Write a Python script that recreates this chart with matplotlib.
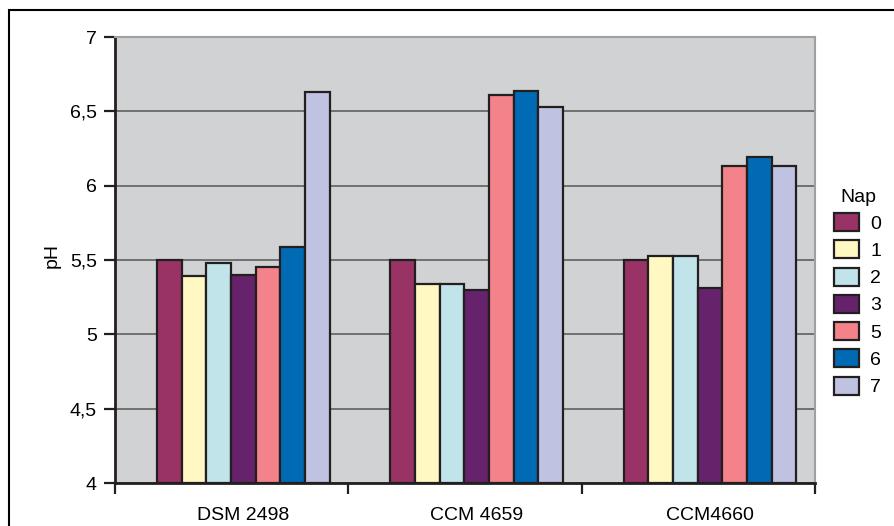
import numpy as np
import matplotlib
matplotlib.use("Agg")
import matplotlib.pyplot as plt
from matplotlib.patches import Rectangle

plt.rcParams['font.family'] = ['Liberation Sans', 'DejaVu Sans']

# data
strains = ["DSM 2498", "CCM 4659", "CCM4660"]
days = ["0", "1", "2", "3", "5", "6", "7"]
ph_day0 = [5.50, 5.50, 5.50]
ph_day1 = [5.39, 5.34, 5.53]
ph_day2 = [5.48, 5.34, 5.53]
ph_day3 = [5.40, 5.30, 5.31]
ph_day5 = [5.45, 6.61, 6.13]
ph_day6 = [5.59, 6.64, 6.19]
ph_day7 = [6.63, 6.53, 6.13]
yticks = [4, 4.5, 5, 5.5, 6, 6.5, 7]
ytick_labels = ["4", "4,5", "5", "5,5", "6", "6,5", "7"]

series = [ph_day0, ph_day1, ph_day2, ph_day3, ph_day5, ph_day6, ph_day7]
colors = ["#993366", "#FFF8C2", "#C0E4EA", "#66226A", "#F4828A", "#006BB4", "#C0C2E2"]

fig = plt.figure(figsize=(8.95, 5.26), dpi=100)
ax = fig.add_axes([115/895, 1 - 483/526, 700/895, 446/526])
ax.set_facecolor("#D1D2D4")

# groups sit a little right of the category centres in the original
x = np.arange(len(strains)) + 0.05
group_w = 0.74
bw = group_w / len(series)
handles = []
for k, (vals, col) in enumerate(zip(series, colors)):
    pos = x - group_w/2 + bw*(k + 0.5)
    b = ax.bar(pos, np.array(vals) - 4, bottom=4, width=bw, color=col,
               edgecolor="#231F20", linewidth=1.6, zorder=3)
    handles.append(b)

ax.set_xlim(-0.5, 2.5)
ax.set_ylim(4, 7)
ax.set_yticks(yticks)
ax.set_yticklabels(ytick_labels, fontsize=14)
ax.yaxis.grid(True, color="#555555", linewidth=1.1, zorder=1)
ax.set_xticks(x)
ax.set_xticklabels(strains, fontsize=14)
ax.set_xticks([-0.5, 0.5, 1.5, 2.5], minor=True)
ax.tick_params(axis="x", which="major", length=0, pad=17)
ax.tick_params(axis="x", which="minor", length=8, width=1.6, color="#231F20")
ax.tick_params(axis="y", length=8, width=1.6, color="#231F20", pad=5)

for side in ["left", "bottom"]:
    ax.spines[side].set_linewidth(2)
    ax.spines[side].set_color("#231F20")
for side in ["top", "right"]:
    ax.spines[side].set_linewidth(1.5)
    ax.spines[side].set_color("#A0A0A0")

ax.set_ylabel("pH", fontsize=14)
ax.yaxis.set_label_coords(-0.078, 0.51)

leg = fig.legend(handles, days, title="Nap", loc="upper left",
                 bbox_to_anchor=(817/895, 1 - 171/526), frameon=False,
                 fontsize=14, title_fontsize=14, handlelength=1.25,
                 handleheight=1.05, handletextpad=0.6, labelspacing=0.39)

# outer frame (top and left edges visible)
fig.patches.append(Rectangle((9/895, -0.05), 1.0, 1 - 10/526 + 0.05,
                             transform=fig.transFigure, fill=False,
                             edgecolor="black", linewidth=1.5))

fig.savefig("out.png", dpi=100)
